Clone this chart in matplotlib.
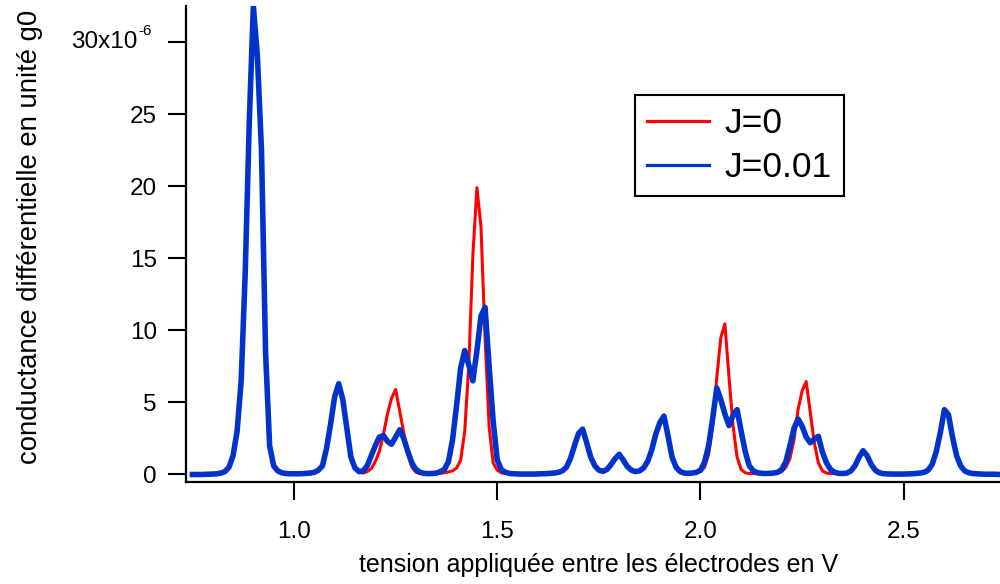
import numpy as np
import matplotlib
matplotlib.use("Agg")
import matplotlib.pyplot as plt
from matplotlib.lines import Line2D
from matplotlib.transforms import blended_transform_factory

plt.rcParams['font.family'] = ['Liberation Sans', 'DejaVu Sans']

# applied voltage (V), sampled every 0.01 V from 0.75 to 2.73
voltage = np.round(np.arange(0.75, 2.7351, 0.01), 2)

# differential conductance (units of 1e-6 g0), J = 0.01
g_J001 = [
    0.0, 0.0, 0.0, 0.01, 0.02, 0.03, 0.05, 0.1, 0.2, 0.5,        # 0.75-0.84
    1.3, 3.0, 6.5, 14.0, 24.5, 32.5, 29.0, 22.5, 8.5, 2.0,       # 0.85-0.94
    0.6, 0.25, 0.12, 0.07, 0.05, 0.05, 0.05, 0.06, 0.08, 0.1,    # 0.95-1.04
    0.15, 0.3, 0.6, 1.8, 3.5, 5.4, 6.3, 5.2, 3.2, 1.2,           # 1.05-1.14
    0.45, 0.2, 0.25, 0.6, 1.3, 2.0, 2.6, 2.7, 2.3, 2.1,          # 1.15-1.24
    2.6, 3.1, 2.5, 1.6, 0.8, 0.35, 0.15, 0.08, 0.06, 0.07,       # 1.25-1.34
    0.1, 0.2, 0.35, 0.9, 2.4, 4.8, 7.4, 8.6, 7.6, 6.5,           # 1.35-1.44
    8.6, 11.0, 11.6, 7.5, 3.7, 1.0, 0.35, 0.15, 0.08, 0.05,      # 1.45-1.54
    0.04, 0.03, 0.03, 0.03, 0.03, 0.04, 0.05, 0.06, 0.08, 0.1,   # 1.55-1.64
    0.15, 0.25, 0.5, 1.1, 2.0, 2.85, 3.15, 2.2, 1.2, 0.6,        # 1.65-1.74
    0.3, 0.22, 0.35, 0.7, 1.1, 1.4, 1.0, 0.55, 0.3, 0.2,         # 1.75-1.84
    0.25, 0.45, 0.9, 1.7, 2.8, 3.6, 4.05, 2.7, 1.2, 0.5,         # 1.85-1.94
    0.2, 0.1, 0.08, 0.1, 0.15, 0.3, 0.85, 2.0, 3.9, 6.0,         # 1.95-2.04
    5.2, 4.2, 3.4, 4.1, 4.5, 3.0, 1.6, 0.6, 0.25, 0.12,          # 2.05-2.14
    0.08, 0.07, 0.08, 0.1, 0.15, 0.35, 0.9, 2.0, 3.2, 3.85,      # 2.15-2.24
    3.35, 2.6, 2.2, 2.45, 2.65, 1.55, 0.8, 0.35, 0.15, 0.08,     # 2.25-2.34
    0.07, 0.1, 0.25, 0.6, 1.2, 1.65, 1.3, 0.7, 0.3, 0.12,        # 2.35-2.44
    0.06, 0.04, 0.03, 0.03, 0.03, 0.03, 0.04, 0.05, 0.07, 0.1,   # 2.45-2.54
    0.15, 0.3, 0.7, 1.6, 2.9, 4.5, 4.15, 2.6, 1.3, 0.6,          # 2.55-2.64
    0.25, 0.12, 0.07, 0.05, 0.03, 0.02, 0.02, 0.02, 0.01,        # 2.65-2.73
]

# differential conductance (units of 1e-6 g0), J = 0
g_J0 = [
    0.0, 0.0, 0.0, 0.01, 0.02, 0.03, 0.05, 0.1, 0.2, 0.5,        # 0.75-0.84
    1.3, 3.0, 6.5, 14.0, 24.5, 32.5, 29.0, 22.5, 8.5, 2.0,       # 0.85-0.94
    0.6, 0.25, 0.12, 0.07, 0.05, 0.05, 0.05, 0.06, 0.08, 0.1,    # 0.95-1.04
    0.15, 0.3, 0.6, 1.8, 3.5, 5.4, 6.3, 5.2, 3.2, 1.2,           # 1.05-1.14
    0.4, 0.15, 0.1, 0.2, 0.4, 0.9, 1.6, 2.8, 4.2, 5.3,           # 1.15-1.24
    5.9, 4.4, 2.9, 1.4, 0.5, 0.15, 0.07, 0.05, 0.05, 0.05,       # 1.25-1.34
    0.06, 0.08, 0.12, 0.18, 0.25, 0.45, 1.0, 3.0, 7.6, 15.2,     # 1.35-1.44
    19.9, 17.2, 9.5, 3.3, 0.8, 0.3, 0.12, 0.07, 0.05, 0.05,      # 1.45-1.54
    0.04, 0.03, 0.03, 0.03, 0.03, 0.04, 0.05, 0.06, 0.08, 0.1,   # 1.55-1.64
    0.15, 0.25, 0.5, 1.1, 2.0, 2.85, 3.15, 2.2, 1.2, 0.6,        # 1.65-1.74
    0.3, 0.22, 0.35, 0.7, 1.1, 1.4, 1.0, 0.55, 0.3, 0.2,         # 1.75-1.84
    0.25, 0.45, 0.9, 1.7, 2.8, 3.6, 4.05, 2.7, 1.2, 0.5,         # 1.85-1.94
    0.2, 0.1, 0.07, 0.08, 0.12, 0.2, 0.5, 1.4, 3.4, 6.7,         # 1.95-2.04
    9.5, 10.45, 6.8, 3.4, 1.2, 0.35, 0.12, 0.07, 0.06, 0.06,     # 2.05-2.14
    0.06, 0.06, 0.06, 0.07, 0.1, 0.2, 0.5, 1.1, 2.4, 4.5,        # 2.15-2.24
    5.8, 6.45, 4.3, 2.2, 0.8, 0.25, 0.1, 0.07, 0.06, 0.06,       # 2.25-2.34
    0.07, 0.1, 0.25, 0.6, 1.2, 1.65, 1.3, 0.7, 0.3, 0.12,        # 2.35-2.44
    0.06, 0.04, 0.03, 0.03, 0.03, 0.03, 0.04, 0.05, 0.07, 0.1,   # 2.45-2.54
    0.15, 0.3, 0.7, 1.6, 2.9, 4.5, 4.15, 2.6, 1.3, 0.6,          # 2.55-2.64
    0.25, 0.12, 0.07, 0.05, 0.03, 0.02, 0.02, 0.02, 0.01,        # 2.65-2.73
]

series_labels = ["J=0", "J=0.01"]
x_ticks = [1.0, 1.5, 2.0, 2.5]
x_ticklabels = ["1.0", "1.5", "2.0", "2.5"]
y_ticks = [0, 5, 10, 15, 20, 25, 30]
y_ticklabels = ["0", "5", "10", "15", "20", "25", ""]
y_top_label = "30x10"
y_top_exponent = "-6"
x_title = "tension appliquée entre les électrodes en V"
y_title = "conductance différentielle en unité g0"

RED = "#ff0000"
BLUE = "#0033cc"

fig = plt.figure(figsize=(10, 5.84), dpi=100)
ax = fig.add_axes([0.186, 1 - 481.7 / 584, 0.814, (481.7 - 6) / 584])

ax.plot(voltage, g_J0, color=RED, lw=2.2, solid_joinstyle='round')
ax.plot(voltage, g_J001, color=BLUE, lw=4.0, solid_joinstyle='round')

ax.set_xlim(0.7343, 2.7368)
ax.set_ylim(-0.5, 32.51)

for s in ["top", "right"]:
    ax.spines[s].set_visible(False)
for s in ["left", "bottom"]:
    ax.spines[s].set_linewidth(1.6)

ax.set_xticks(x_ticks)
ax.set_xticklabels(x_ticklabels)
ax.set_yticks(y_ticks)
ax.set_yticklabels(y_ticklabels)
ax.tick_params(axis='both', direction='out', length=13, width=1.5, labelsize=17.5)
ax.tick_params(axis='y', pad=8)
ax.tick_params(axis='x', pad=15)

# top y tick label with raised exponent (hyphen style as in the original)
tr = blended_transform_factory(fig.transFigure, ax.transData)
ax.text(0.137, y_ticks[-1], y_top_label, transform=tr, ha='right', va='center',
        fontsize=17.5)
ax.text(0.1385, y_ticks[-1] + 0.8, y_top_exponent, transform=tr, ha='left',
        va='center', fontsize=11)

ax.set_xlabel(x_title, fontsize=18)
ax.xaxis.set_label_coords(0.5068, -0.176)
ax.set_ylabel(y_title, fontsize=19.8)
ax.yaxis.set_label_coords(-0.1916, 0.5155)
ax.yaxis.label.set_va('center')
ax.xaxis.label.set_va('center')

handles = [Line2D([], [], color=RED, lw=2.3), Line2D([], [], color=BLUE, lw=2.3)]
leg = fig.legend(handles, series_labels, loc='upper left',
                 bbox_to_anchor=(0.635, 1 - 95 / 584), bbox_transform=fig.transFigure,
                 borderaxespad=0, fontsize=25.5, frameon=True, fancybox=False,
                 edgecolor='black', framealpha=1, handlelength=1.75,
                 handletextpad=0.42, labelspacing=0.3, borderpad=0.35)
leg.get_frame().set_linewidth(1.5)

fig.savefig("out.png", dpi=100)
